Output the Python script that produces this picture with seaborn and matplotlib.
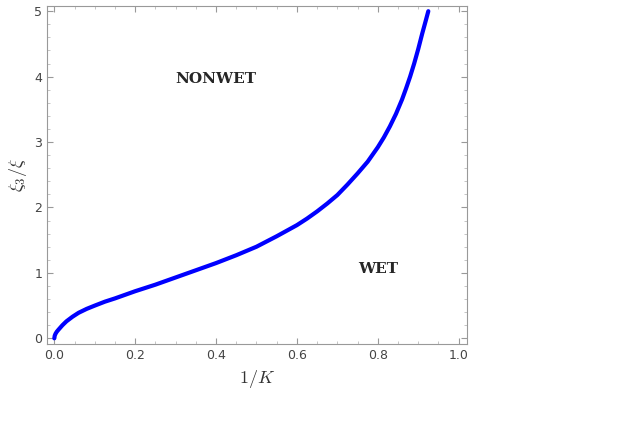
import numpy as np
import pandas as pd
import seaborn as sns
import matplotlib.pyplot as plt

# curve
inv_k = [0.0, 0.001, 0.003, 0.006, 0.01, 0.02, 0.03, 0.045, 0.06, 0.08, 0.1, 0.125, 0.15, 0.175, 0.2, 0.25, 0.3, 0.35,
         0.4, 0.45, 0.5, 0.55, 0.6, 0.625, 0.65, 0.675, 0.7, 0.725, 0.75, 0.775, 0.8, 0.815, 0.83, 0.845,
         0.86, 0.87, 0.88, 0.89, 0.9, 0.91, 0.918, 0.925]
xi_ratio = [0.0, 0.04, 0.07, 0.10, 0.13, 0.2, 0.26, 0.33, 0.39, 0.45, 0.5, 0.56, 0.61, 0.665, 0.72, 0.82, 0.93, 1.04,
            1.15, 1.27, 1.4, 1.56, 1.73, 1.83, 1.94, 2.06, 2.19, 2.35, 2.52, 2.7, 2.92, 3.07, 3.24, 3.43,
            3.65, 3.82, 4.0, 4.2, 4.42, 4.66, 4.84, 5.0]

df = pd.DataFrame({'x': inv_k, 'y': xi_ratio})

sns.set_style('ticks')
plt.rcParams['font.family'] = ['DejaVu Sans']
plt.rcParams['mathtext.fontset'] = 'cm'
fig = plt.figure(figsize=(6.19, 4.26), dpi=100)
ax = fig.add_axes([0.076, 0.192, 0.678, 0.794])
sns.lineplot(data=df, x='x', y='y', color='#0000ff', linewidth=3, ax=ax)

ax.set_xlim(-0.018, 1.02)
ax.set_ylim(-0.09, 5.08)
ax.set_xticks([0, 0.2, 0.4, 0.6, 0.8, 1.0])
ax.set_xticklabels(['0.0', '0.2', '0.4', '0.6', '0.8', '1.0'])
ax.set_yticks([0, 1, 2, 3, 4, 5])
ax.set_xticks(np.arange(0, 1.01, 0.05), minor=True)
ax.set_yticks(np.arange(0, 5.01, 0.2), minor=True)
for s in ax.spines.values():
    s.set_color('#999999')
ax.tick_params(colors='#999999', labelcolor='#444444', labelsize=9, direction='in', length=4)
ax.tick_params(which='minor', colors='#bbbbbb', direction='in', length=2)
ax.tick_params(top=True, right=True, which='both')

ax.set_xlabel('$1/K$', fontsize=13, color='#333333')
ax.set_ylabel(r'$\xi_3/\xi$', fontsize=13, color='#333333')
ax.text(0.4, 3.9, 'NONWET', fontsize=11, fontweight='bold', family='serif', ha='center')
ax.text(0.8, 1.0, 'WET', fontsize=11, fontweight='bold', family='serif', ha='center')

fig.savefig('out.png', dpi=100)
